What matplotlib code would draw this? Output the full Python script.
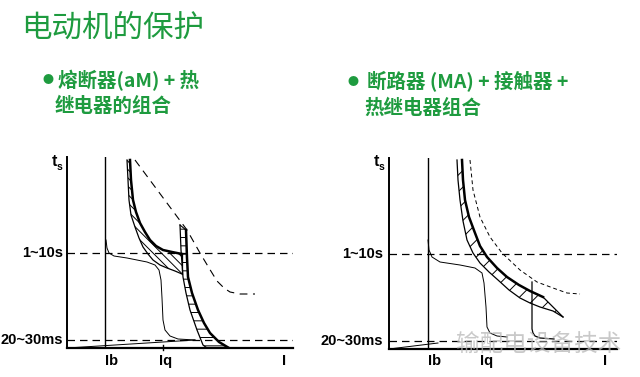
import matplotlib
matplotlib.use("Agg")
import matplotlib.pyplot as plt

plt.rcParams['font.family'] = ['Noto Sans CJK SC', 'DejaVu Sans']
plt.rcParams['hatch.linewidth'] = 0.7

GREEN = '#1e9b3f'
W, H = 640, 377

title = '电动机的保护'
sub_left = ['熔断器(aM) + 热', '继电器的组合']
sub_right = ['断路器 (MA) + 接触器 +', '热继电器组合']
level_labels = ['1~10s', '20~30ms']
level_t = [95, 8]
watermark = '输配电设备技术'

# left panel: fuse (aM) + thermal relay, units = current I / time t
L_ib = 38
L_iq = 96
L_motor_I = [39, 40, 42, 47, 60, 80, 88, 92, 94, 95, 96, 98, 103, 111, 128]
L_motor_t = [108, 100, 95, 92, 90, 86, 83, 78, 68, 50, 28, 18, 12, 9, 8]
L_start_I = [0, 128]
L_start_t = [0, 8]
fuse_lo_I = [60, 61, 62, 64, 68, 72, 76, 81, 86, 93, 100, 108, 115]
fuse_lo_t = [188, 168, 148, 133, 121, 110, 101, 94, 88, 83, 80, 77, 74]
fuse_hi_I = [63, 64, 66, 69, 73, 78, 83, 89, 96, 105, 115]
fuse_hi_t = [188, 168, 148, 136, 125, 116, 108, 102, 98, 96, 94]
band_lo_I = [113, 114, 116, 119, 123, 130, 136, 140]
band_lo_t = [123, 98, 71, 55, 38, 18, 3, 0]
band_hi_I = [119, 120, 121, 125, 131, 137, 143, 152, 162]
band_hi_t = [118, 90, 71, 55, 38, 25, 15, 6, 0]
L_dash_I = [68, 120, 133, 142, 150, 157, 163, 173, 188]
L_dash_t = [188, 118, 95, 80, 67, 60, 56, 54, 54]

# right panel: breaker (MA) + contactor + thermal relay
R_ib = 39
R_motor_I = [39, 40, 43, 51, 71, 86, 93, 95, 97, 98, 101, 108, 118]
R_motor_t = [109, 99, 92, 87, 84, 81, 76, 66, 42, 22, 16, 13, 12]
R_start_I = [0, 49]
R_start_t = [0, 6]
brk_lo_I = [68, 69, 71, 74, 78, 84, 91, 100, 109, 120, 131, 141, 151, 164, 174]
brk_lo_t = [189, 169, 149, 128, 109, 96, 86, 77, 69, 59, 51, 46, 42, 38, 32]
brk_hi_I = [73, 74, 76, 80, 86, 91, 98, 108, 118, 130, 141, 154]
brk_hi_t = [189, 169, 149, 132, 116, 103, 92, 81, 72, 64, 58, 52]
mag_I = [143, 143, 144, 146, 151, 165]
mag_t = [67, 20, 16, 13, 11, 10]
R_dash_I = [81, 84, 91, 101, 113, 131, 148, 164, 178, 191]
R_dash_t = [189, 159, 132, 112, 96, 79, 67, 61, 56, 55]

fig = plt.figure(figsize=(6.4, 3.77), dpi=100)


def fp(x, y):
    return x / W, 1 - y / H


def panel(x0, y0, w, h):
    ax = fig.add_axes([x0 / W, 1 - y0 / H, w / W, h / H])
    ax.set_xlim(0, w)
    ax.set_ylim(0, h)
    for s in ['top', 'right']:
        ax.spines[s].set_visible(False)
    ax.spines['left'].set_linewidth(1.4)
    ax.spines['bottom'].set_linewidth(1.6)
    ax.set_xticks([])
    ax.set_yticks([])
    ax.patch.set_alpha(0)
    for t in level_t:
        ax.axhline(t, color='k', lw=0.9, dashes=(6, 4))
    return ax


axL = panel(67, 348, 226, 191)
axR = panel(389, 349, 228, 191)

# left panel curves
axL.plot([L_ib, L_ib], [0, 191], color='k', lw=1.0)
axL.plot(L_motor_I, L_motor_t, color='k', lw=0.7)
axL.plot(L_start_I, L_start_t, color='k', lw=0.7)
axL.fill(fuse_lo_I + fuse_hi_I[::-1], fuse_lo_t + fuse_hi_t[::-1],
         facecolor='none', edgecolor='k', lw=0, hatch='\\\\\\\\')
axL.plot(fuse_lo_I, fuse_lo_t, color='k', lw=0.9)
axL.plot(fuse_hi_I, fuse_hi_t, color='k', lw=1.8)
axL.fill(band_lo_I + band_hi_I[::-1], band_lo_t + band_hi_t[::-1],
         facecolor='none', edgecolor='k', lw=0, hatch='--')
axL.plot(band_lo_I, band_lo_t, color='k', lw=0.9)
axL.plot(band_hi_I, band_hi_t, color='k', lw=1.8)
axL.plot([band_lo_I[0], band_hi_I[0]], [band_lo_t[0], band_hi_t[0]], color='k', lw=0.8)
axL.plot([fuse_lo_I[-1], fuse_lo_I[-1]], [fuse_lo_t[-1], fuse_hi_t[-1]], color='k', lw=0.9)
axL.plot(L_dash_I, L_dash_t, color='k', lw=0.8, dashes=(7, 5))
axL.plot([L_iq, L_iq], [-2, 3], color='k', lw=1.0, clip_on=False)

# right panel curves
axR.plot([R_ib, R_ib], [0, 191], color='k', lw=1.0)
axR.plot(R_motor_I, R_motor_t, color='k', lw=0.7)
axR.plot(R_start_I, R_start_t, color='k', lw=0.7)
axR.fill(brk_lo_I + brk_hi_I[::-1], brk_lo_t + brk_hi_t[::-1],
         facecolor='none', edgecolor='k', lw=0, hatch='//')
axR.plot(brk_lo_I, brk_lo_t, color='k', lw=0.9)
axR.plot(brk_hi_I, brk_hi_t, color='k', lw=1.8)
axR.plot([brk_hi_I[-1], brk_lo_I[-1]], [brk_hi_t[-1], brk_lo_t[-1]], color='k', lw=0.9)
axR.plot(mag_I, mag_t, color='k', lw=0.9)
axR.plot(R_dash_I, R_dash_t, color='k', lw=0.7, dashes=(4, 3))

# titles
fig.text(*fp(21, 28), title, color=GREEN, fontsize=22, va='center', ha='left')
for bx, by, tx, lines in [(48, 80, 58, sub_left), (353, 82, 367, sub_right)]:
    fig.text(*fp(bx, by), '●', color=GREEN, fontsize=8, va='center', ha='center')
    fig.text(*fp(tx, by), lines[0], color=GREEN, fontsize=14, weight='bold',
             va='center', ha='left')
    fig.text(*fp(tx - 3, by + 26), lines[1], color=GREEN, fontsize=14, weight='bold',
             va='center', ha='left')

# axis texts
lab = dict(fontsize=10.5, weight='bold', family=['Liberation Sans', 'DejaVu Sans'])
for ox, oy, ib_x, iq_x, i_x, lx in [(67, 348, 105, 166, 284, 63), (389, 349, 428, 487, 605, 383)]:
    fig.text(*fp(ox - 15, 161), 't', va='center', ha='left', fontsize=11.5, weight='bold',
             family=['Liberation Sans'])
    fig.text(*fp(ox - 10, 167), 's', va='center', ha='left', fontsize=7.5, weight='bold',
             family=['Liberation Sans'])
    for t, txt in zip(level_t, level_labels):
        fig.text(*fp(lx, oy - t), txt, va='center', ha='right', **lab)
    fig.text(*fp(ib_x, 361), 'Ib', va='center', ha='left', **lab)
    fig.text(*fp(iq_x, 361), 'Iq', va='center', ha='center', **lab)
    fig.text(*fp(i_x, 361), 'I', va='center', ha='center', **lab)

fig.text(*fp(456, 344), watermark, color='#b8b8b8', alpha=0.75, fontsize=17,
         va='center', ha='left')

fig.savefig('out.png', dpi=100)
